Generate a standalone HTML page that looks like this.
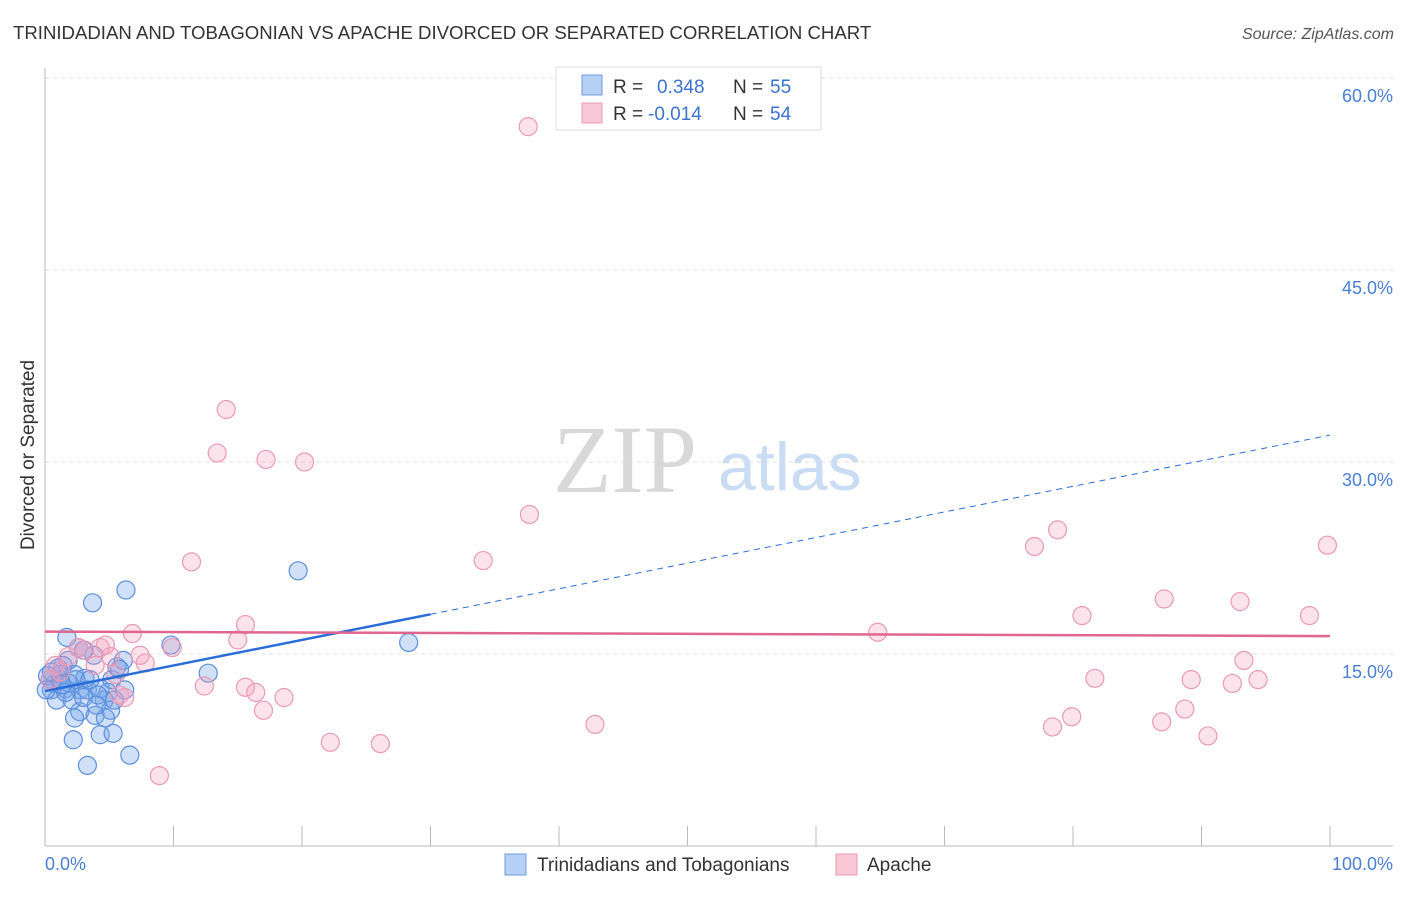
<!DOCTYPE html>
<html><head><meta charset="utf-8"><style>
body{margin:0;background:#fff;font-family:"Liberation Sans",sans-serif;}
</style></head><body>
<svg id="chart" width="1406" height="892" xmlns="http://www.w3.org/2000/svg" font-family="Liberation Sans, sans-serif">
<text x="13" y="39" font-size="18.6" fill="#333">TRINIDADIAN AND TOBAGONIAN VS APACHE DIVORCED OR SEPARATED CORRELATION CHART</text>
<text x="1394" y="39" font-size="16" fill="#555" font-style="italic" text-anchor="end">Source: ZipAtlas.com</text>
<text x="553" y="492" font-size="96" fill="#d8d8d8" style="font-family:'Liberation Serif',serif">ZIP</text>
<text x="718" y="490" font-size="68" fill="#c9dcf3">atlas</text>
<g id="grid"></g>
<line x1="45" y1="68" x2="45" y2="846" stroke="#bbb"/>
<line x1="45" y1="846" x2="1393" y2="846" stroke="#bbb"/>
<text transform="translate(34,455) rotate(-90)" font-size="19" fill="#333" text-anchor="middle">Divorced or Separated</text>
<text x="45" y="870" font-size="18" fill="#4a7fd4">0.0%</text>
<text x="1393" y="870" font-size="18" fill="#4a7fd4" text-anchor="end">100.0%</text>
<g id="pts"></g>
<g id="lines"></g>
<g>
<rect x="556" y="67" width="265" height="63" fill="#fff" stroke="#ddd"/>
<rect x="582" y="75" width="20" height="20" fill="#b7d0f5" stroke="#6d9be0"/>
<rect x="582" y="103" width="20" height="20" fill="#f9c6d5" stroke="#eb9ab4"/>
<text x="613" y="93" font-size="19" fill="#333">R = </text><text x="657" y="93" font-size="19" fill="#3b73d0">0.348</text>
<text x="733" y="93" font-size="19" fill="#333">N = </text><text x="770" y="93" font-size="19" fill="#3b73d0">55</text>
<text x="613" y="120" font-size="19" fill="#333">R = </text><text x="648" y="120" font-size="19" fill="#3b73d0">-0.014</text>
<text x="733" y="120" font-size="19" fill="#333">N = </text><text x="770" y="120" font-size="19" fill="#3b73d0">54</text>
</g>
<g>
<rect x="505" y="854" width="21" height="21" fill="#b7d0f5" stroke="#6d9be0"/>
<text x="537" y="871" font-size="19" fill="#333">Trinidadians and Tobagonians</text>
<rect x="836" y="854" width="21" height="21" fill="#f9c6d5" stroke="#eb9ab4"/>
<text x="867" y="871" font-size="19" fill="#333">Apache</text>
</g>
</svg>
<script>
const yTicks=[15,30,45,60];
const yTickLabels=["15.0%","30.0%","45.0%","60.0%"];
const xTicks=[10,20,30,40,50,60,70,80,90,100];
const blueX=[3.7,6.3,1.7,19.7,9.8,12.7,28.3,5.6,6.1,3.8,3.0,1.8,0.4,0.8,1.2,0.5,0.9,1.6,2.3,2.7,3.3,4.3,4.9,5.2,6.2,4.6,5.1,2.7,3.9,4.7,2.3,2.2,4.3,5.3,3.3,6.6,0.2,1.2,1.9,3.1,1.4,2.6,3.5,4.1,5.8,0.1,1.0,2.1,3.0,4.0,5.4,0.5,1.6,2.4,1.3];
const blueY=[19.0,20.0,16.3,21.5,15.7,13.5,15.9,14.0,14.5,14.9,15.3,14.5,13.0,12.7,13.0,12.2,11.4,12.3,13.4,12.2,12.2,12.3,12.0,13.0,12.2,11.4,10.6,10.5,10.2,10.0,10.0,8.3,8.7,8.8,6.3,7.1,13.3,13.4,12.7,13.1,14.1,15.5,13.0,11.8,13.8,12.2,13.9,11.4,11.6,11.0,11.4,13.6,12.0,13.0,12.6];
const pinkX=[37.6,14.1,13.4,17.2,20.2,37.7,11.4,34.1,78.8,77.0,99.8,87.1,93.0,80.7,98.4,64.8,15.6,6.8,15.0,9.9,7.4,7.8,5.1,4.3,3.1,2.6,1.8,0.8,1.2,0.4,5.5,5.8,6.2,12.4,15.6,16.4,17.0,18.6,22.2,26.1,8.9,42.8,93.3,81.7,89.2,94.4,92.4,88.7,79.9,78.4,86.9,90.5,3.9,4.7];
const pinkY=[56.2,34.1,30.7,30.2,30.0,25.9,22.2,22.3,24.7,23.4,23.5,19.3,19.1,18.0,18.0,16.7,17.3,16.6,16.1,15.5,14.9,14.3,14.8,15.5,15.3,15.5,14.8,14.1,13.6,13.0,13.4,11.8,11.6,12.5,12.4,12.0,10.6,11.6,8.1,8.0,5.5,9.5,14.5,13.1,13.0,13.0,12.7,10.7,10.1,9.3,9.7,8.6,14.1,15.7];
const blueTrend=[12.1,0.2];   // intercept, slope
const blueSolidEnd=[30];
const pinkTrend=[16.75,-0.0035];
const sx=v=>45+v*12.85, sy=v=>846-v*12.8;
const NS="http://www.w3.org/2000/svg";
function mk(t,a,p){const e=document.createElementNS(NS,t);for(const k in a)e.setAttribute(k,a[k]);p.appendChild(e);return e;}
const grid=document.getElementById('grid');
yTicks.forEach((t,i)=>{
 const l=mk('line',{x1:45,x2:1393,y1:sy(t),y2:sy(t),stroke:'#ddd','stroke-dasharray':'4,4'},grid);
 
 
 const tx=mk('text',{x:1393,y:sy(t)+24,'font-size':18,fill:'#4a7fd4','text-anchor':'end'},grid);
 tx.textContent=yTickLabels[i];
 
 
});
xTicks.forEach(t=>{
 const l=mk('line',{x1:sx(t),x2:sx(t),y1:826,y2:846,stroke:'#bbb'},grid);
 
 
});
const pts=document.getElementById('pts');
blueX.forEach((x,i)=>{
 const c=mk('circle',{cx:sx(x),cy:sy(blueY[i]),r:9,fill:'rgba(120,165,235,0.35)',stroke:'#5b8fdc','stroke-width':1.2},pts);
 
 
});
pinkX.forEach((x,i)=>{
 const c=mk('circle',{cx:sx(x),cy:sy(pinkY[i]),r:9,fill:'rgba(245,160,190,0.3)',stroke:'#eb9ab4','stroke-width':1.2},pts);
 
 
});
const ln=document.getElementById('lines');
const bf=x=>blueTrend[0]+blueTrend[1]*x, pf=x=>pinkTrend[0]+pinkTrend[1]*x;
let a=mk('line',{x1:sx(0),y1:sy(bf(0)),x2:sx(blueSolidEnd[0]),y2:sy(bf(blueSolidEnd[0])),stroke:'#2a6dd6','stroke-width':2.5},ln);


let b=mk('line',{x1:sx(blueSolidEnd[0]),y1:sy(bf(blueSolidEnd[0])),x2:sx(100),y2:sy(bf(100)),stroke:'#2a6dd6','stroke-width':1,'stroke-dasharray':'6,5'},ln);


let c=mk('line',{x1:sx(0),y1:sy(pf(0)),x2:sx(100),y2:sy(pf(100)),stroke:'#e0668e','stroke-width':2.5},ln);


</script>
</body></html>
